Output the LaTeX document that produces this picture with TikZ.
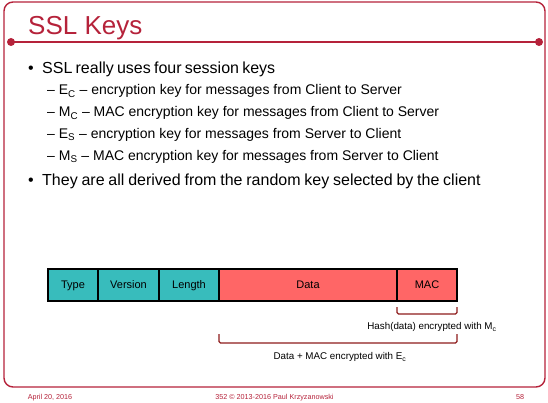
\documentclass[tikz,border=0pt]{standalone}
\usepackage{fontspec}
\setmainfont{Liberation Sans}
\definecolor{slidered}{HTML}{B5223A}
\definecolor{hdrteal}{HTML}{38BCBC}
\definecolor{payload}{HTML}{FF6666}
\definecolor{bracketred}{HTML}{8E1B1B}
\newcommand{\sub}[1]{\textsubscript{#1}}
\newcommand{\wordgap}[1]{\spaceskip=#1\relax}
\tikzset{
  frameline/.style={draw=slidered, line width=1.4pt},
  lvlone/.style={anchor=base west, inner sep=0pt, font=\fontsize{16}{19}\selectfont},
  lvltwo/.style={anchor=base west, inner sep=0pt, font=\fontsize{14}{17}\selectfont},
  field/.style={draw=black, line width=1.2pt, anchor=north west, inner sep=0pt, outer sep=0pt,
    minimum height=32pt, text height=1.6ex, text depth=0.3ex, font=\fontsize{11}{13}\selectfont},
  hdr/.style={field, fill=hdrteal},
  body/.style={field, fill=payload},
  brace/.style={draw=bracketred, line width=1.1pt, rounded corners=1.5pt},
  note/.style={inner sep=0pt, font=\fontsize{9.8}{11}\selectfont},
  foot/.style={inner sep=0pt, anchor=base, text=slidered, font=\fontsize{7.2}{8}\selectfont},
}
\begin{document}
\begin{tikzpicture}[x=1pt, y=-1pt]
\useasboundingbox (0,0) rectangle (548,403);

% slide frame and title rule
\draw[frameline, rounded corners=9pt] (4,2) rectangle (545,387);
\coordinate (ruleL) at (11,42);
\coordinate (ruleR) at (539,42);
\draw[slidered, line width=2.2pt] (ruleL) -- (ruleR);
\fill[slidered] (ruleL) circle (4pt) (ruleR) circle (4pt);

\node[anchor=base west, inner sep=0pt, text=slidered, font=\fontsize{26}{30}\selectfont]
  (title) at (28,35) {SSL Keys};

% bullet list
\node[lvlone] (b1m) at (28,74) {•};
\node[lvlone] (b1) at (42,74) {\wordgap{3.2pt}SSL really uses four session keys};
\node[lvltwo] (s1) at (47,95) {– E\sub{C} – encryption key for messages from Client to Server};
\node[lvltwo] (s2) at (47,117) {– M\sub{C} – MAC encryption key for messages from Client to Server};
\node[lvltwo] (s3) at (47,138.5) {– E\sub{S} – encryption key for messages from Server to Client};
\node[lvltwo] (s4) at (47,160.5) {– M\sub{S} – MAC encryption key for messages from Server to Client};
\node[lvlone] (b2m) at (28,186) {•};
\node[lvlone] (b2) at (42,186) {\wordgap{3.8pt}They are all derived from the random key selected by the client};

% record layout
\node[hdr, minimum width=50pt] (type) at (48,269) {Type};
\node[hdr, minimum width=61pt] (version) at (98,269) {Version};
\node[hdr, minimum width=60pt] (length) at (159,269) {Length};
\node[body, minimum width=178pt] (data) at (219,269) {Data};
\node[body, minimum width=60pt] (mac) at (397,269) {MAC};

% spans under the record
\draw[brace] ([yshift=-6pt]mac.south west) -- ([yshift=-13pt]mac.south west)
  -- ([yshift=-13pt]mac.south east) -- ([yshift=-6pt]mac.south east);
\node[note] (macnote) at (432,327) {Hash(data) encrypted with M\sub{c}};
\draw[brace] ([yshift=-33pt]data.south west) -- ([yshift=-42pt]data.south west)
  -- ([yshift=-42pt]mac.south east) -- ([yshift=-33pt]mac.south east);
\node[note] (encnote) at (340,357) {Data + MAC encrypted with E\sub{c}};

% footer
\node[foot] (date) at (50,399.5) {April 20, 2016};
\node[foot] (credit) at (274.5,399.5) {352 © 2013-2016 Paul Krzyzanowski};
\node[foot] (page) at (520,399.5) {58};
\end{tikzpicture}
\end{document}
